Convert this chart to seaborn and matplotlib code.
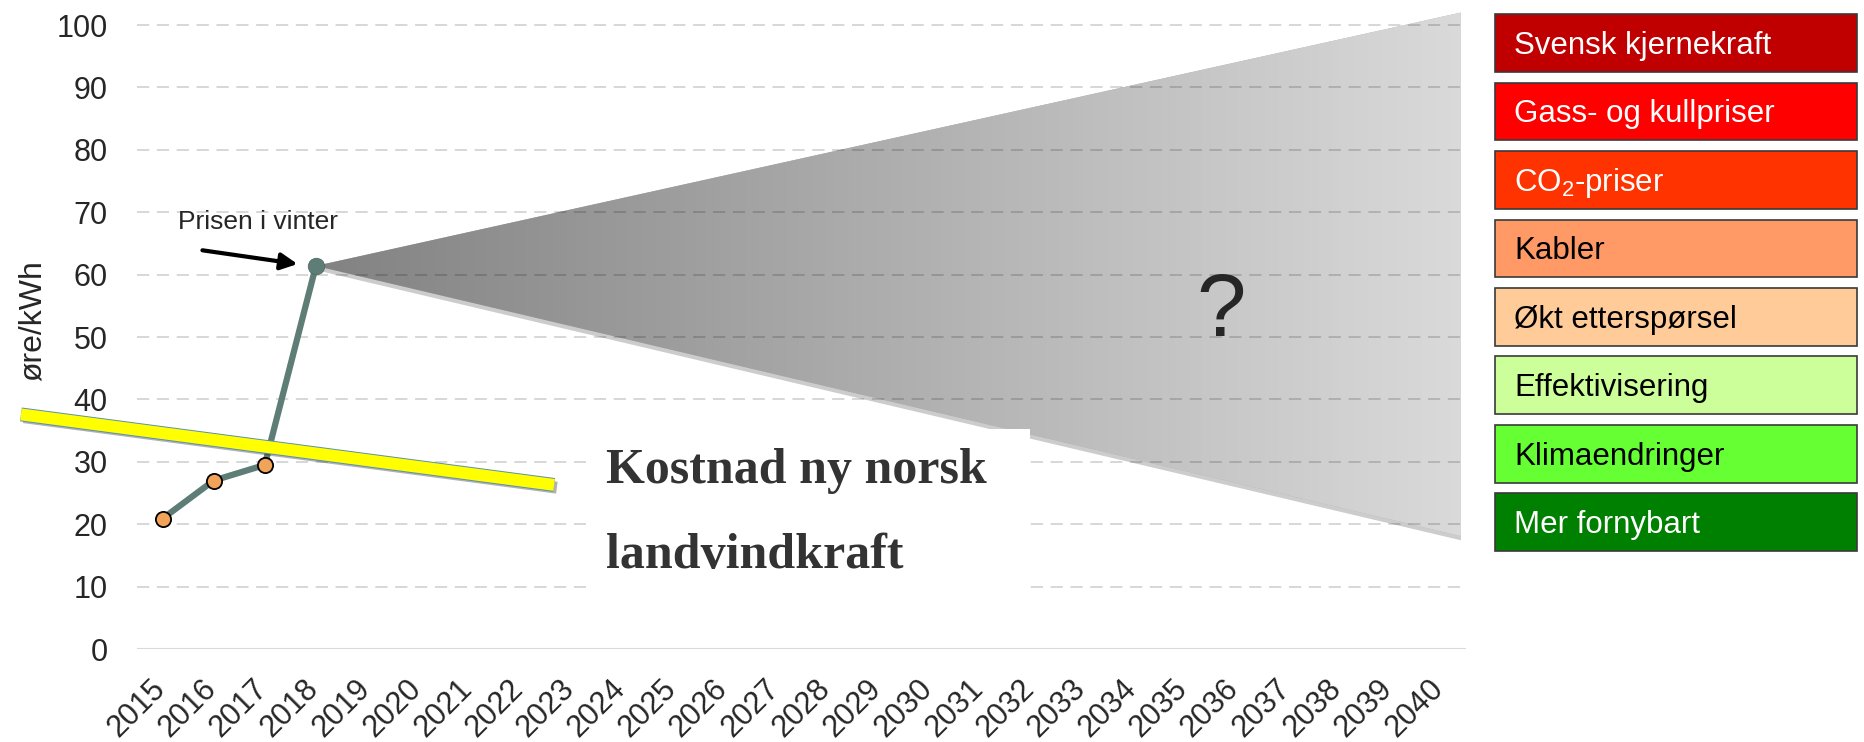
import numpy as np
import pandas as pd
import seaborn as sns
import matplotlib.pyplot as plt
import matplotlib.patheffects as pe
from matplotlib.patches import Polygon, Rectangle
from matplotlib.colors import LinearSegmentedColormap
from matplotlib.transforms import ScaledTranslation

# Data
years = [2015, 2016, 2017, 2018]
price = [20.9, 27.0, 29.5, 61.4]
axis_years = list(range(2015, 2041))

# uncertainty cone after 2018
cone_x = [2018, 2040.4, 2040.4]
cone_y = [61.4, 102.0, 18.1]

# cost of new Norwegian onshore wind (yellow bar)
wind_x = [2012.23, 2022.66]
wind_y = [37.6, 26.3]

factors = ['Svensk kjernekraft', 'Gass- og kullpriser', 'CO$_2$-priser', 'Kabler',
           'Økt etterspørsel', 'Effektivisering', 'Klimaendringer', 'Mer fornybart']
factor_colors = ['#C00000', '#FF0000', '#FF3300', '#FF9966',
                 '#FFCC99', '#CCFF99', '#66FF33', '#008000']
factor_text = ['white', 'white', 'white', 'black', 'black', 'black', 'black', 'white']

sns.set_style('white')
plt.rcParams['font.family'] = ['Liberation Sans', 'DejaVu Sans']
plt.rcParams['mathtext.fontset'] = 'custom'
plt.rcParams['mathtext.rm'] = 'Liberation Sans'
plt.rcParams['mathtext.it'] = 'Liberation Sans:italic'

fig = plt.figure(figsize=(18.64, 7.42), dpi=100)
ax = fig.add_axes([0.0735, 0.1253, 0.713, 0.862])

# ## Cone with grey gradient ## #
cone = Polygon(np.column_stack([cone_x, cone_y]), closed=True, facecolor='#b0b0b0',
               edgecolor='none', zorder=0.9,
               path_effects=[pe.SimplePatchShadow(offset=(0, -3), alpha=0.25), pe.Normal()])
ax.add_patch(cone)
grad = np.linspace(0, 1, 256).reshape(1, -1)
cmap = LinearSegmentedColormap.from_list('cone', ['#828282', '#dadada'])
img = ax.imshow(grad, extent=[cone_x[0], cone_x[1], min(cone_y), max(cone_y)],
                aspect='auto', cmap=cmap, zorder=1)
img.set_clip_path(cone)

# ## Grid ## #
ax.set_yticks(range(0, 101, 10))
ax.set_axisbelow('line')
ax.grid(axis='y', color='black', alpha=0.2, lw=1.1, linestyle=(0, (8, 5)))
ax.grid(axis='x', visible=False)
ax.axhline(0, color='#d9d9d9', lw=1.5, zorder=1.6)

# ## White label box ## #
ax.add_patch(Rectangle((2023.28, 9.0), 8.69, 26.3, facecolor='white',
                       edgecolor='none', zorder=3))
ax.text(2023.67, 26.6, 'Kostnad ny norsk', family='Liberation Serif', weight='bold',
        size=36, color='#333333', va='baseline', zorder=3.5)
ax.text(2023.67, 13.0, 'landvindkraft', family='Liberation Serif', weight='bold',
        size=36, color='#333333', va='baseline', zorder=3.5)

# ## Price line ## #
line_color = '#5E7D76'
sns.lineplot(x=years, y=price, ax=ax, color=line_color, lw=4.5, zorder=4)
sns.scatterplot(x=years[:3], y=price[:3], ax=ax, color='#F2A35A', edgecolor='black',
                linewidth=1.3, s=120, zorder=4.5)
sns.scatterplot(x=years[3:], y=price[3:], ax=ax, color=line_color, edgecolor='#4f6b65',
                linewidth=0.6, s=140, zorder=4.5)

# ## Yellow wind-cost bar ## #
ax.plot(wind_x, wind_y, color='#FFFF00', lw=8.6, solid_capstyle='butt', clip_on=False,
        zorder=5,
        path_effects=[pe.SimpleLineShadow(offset=(2, -2), alpha=0.3, shadow_color='black'),
                      pe.Stroke(linewidth=10, foreground='#5a8fb0'), pe.Normal()])

# ## Annotations ## #
ax.annotate('', xy=(2017.64, 61.7), xytext=(2015.78, 63.9),
            arrowprops=dict(arrowstyle='-|>', color='black', lw=3, mutation_scale=25,
                            shrinkA=0, shrinkB=0), zorder=6)
ax.text(2015.31, 67.3, 'Prisen i vinter', fontsize=19, va='baseline', zorder=6)
ax.text(2035.7, 50.2, '?', fontsize=64, ha='center', va='baseline', zorder=6)

# ## Axes ## #
ax.set_xlim(2014.5, 2040.5)
ax.set_ylim(0, 102.5)
ax.set_xticks(axis_years)
ax.set_xticklabels([str(y) for y in axis_years], rotation=45, ha='right')
ax.tick_params(axis='x', length=0, labelsize=22, pad=18)
ax.tick_params(axis='y', length=0, labelsize=22, pad=21)
for lab in ax.get_xticklabels():
    lab.set_transform(lab.get_transform() + ScaledTranslation(0.09, 0, fig.dpi_scale_trans))
sns.despine(ax=ax, left=True, bottom=True)
ax.set_xlabel('')
ax.set_ylabel('øre/kWh', fontsize=23)
ax.yaxis.set_label_coords(-0.067, 0.514)

# ## Factor boxes ## #
lax = fig.add_axes([0.8015, 0.25, 0.1953, 0.7385])
df = pd.DataFrame({'factor': factors, 'val': 1})
sns.barplot(data=df, x='val', y='factor', hue='factor',
            palette=dict(zip(factors, factor_colors)), legend=False, width=0.84,
            edgecolor='#3a3a3a', linewidth=1.2, saturation=1, ax=lax)
lax.set_xlim(-0.004, 1.004)
lax.set_ylim(7.5, -0.5)
lax.axis('off')
for i, (f, c) in enumerate(zip(factors, factor_text)):
    lax.text(0.052, i + 0.16, f, color=c, fontsize=22.5, va='baseline')

fig.savefig('out.png', dpi=100)
